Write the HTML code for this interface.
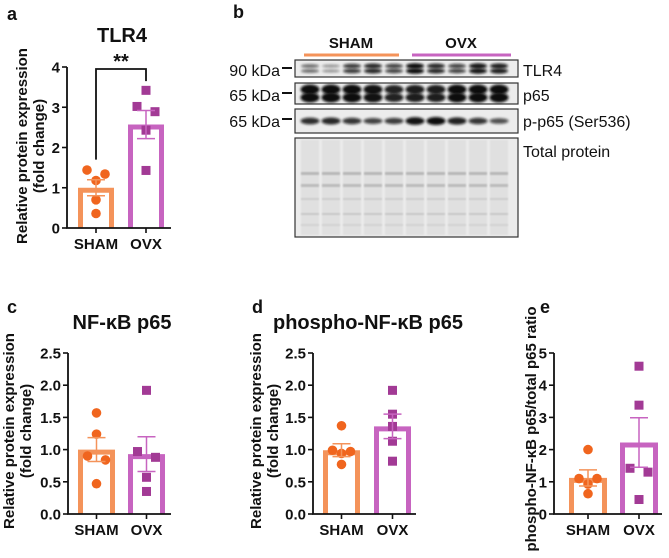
<!DOCTYPE html>
<html><head><meta charset="utf-8">
<style>
html,body{margin:0;padding:0;background:#fff;}
svg{display:block;font-family:"Liberation Sans",Arial,sans-serif;}
.tk{font-size:15px;font-weight:bold;fill:#111;}
.ttl{font-size:20px;font-weight:bold;fill:#111;}
.pl{font-size:18px;font-weight:bold;fill:#111;}
.bl{font-size:16px;fill:#111;}
</style></head>
<body>
<svg id="fig" width="669" height="558" viewBox="0 0 669 558" xmlns="http://www.w3.org/2000/svg">
<defs>
<filter id="blur1" x="-30%" y="-80%" width="160%" height="260%"><feGaussianBlur stdDeviation="1.2"/></filter>
<filter id="blur2" x="-20%" y="-50%" width="140%" height="200%"><feGaussianBlur stdDeviation="0.8"/></filter>
</defs>
<text class="pl" x="7" y="20">a</text>
<text class="pl" x="233" y="18">b</text>
<text class="pl" x="7" y="313">c</text>
<text class="pl" x="252" y="313">d</text>
<text class="pl" x="540" y="313">e</text>
<g id="blot"></g>
<g id="charts"></g>
</svg>
<script>
// ---- data ----
const groups = ["SHAM", "OVX"];
// panel a TLR4
const aSham = [1.44, 1.34, 1.18, 0.70, 0.36];
const aOvx = [3.42, 3.02, 2.89, 2.43, 1.43];
const aMean = [1.0, 2.57];
const aSem = [0.2, 0.35];
const aTicks = [0, 1, 2, 3, 4];
// panel c NF-kB p65
const cSham = [1.57, 1.24, 0.90, 0.84, 0.47];
const cOvx = [1.92, 0.97, 0.88, 0.57, 0.35];
const cMean = [1.0, 0.93];
const cSem = [0.185, 0.27];
const cTicks = ["0.0", "0.5", "1.0", "1.5", "2.0", "2.5"];
// panel d phospho p65
const dSham = [1.37, 0.99, 0.97, 0.94, 0.77];
const dOvx = [1.92, 1.55, 1.36, 1.13, 0.82];
const dMean = [0.99, 1.36];
const dSem = [0.1, 0.19];
const dTicks = ["0.0", "0.5", "1.0", "1.5", "2.0", "2.5"];
// panel e ratio
const eSham = [2.0, 1.1, 1.1, 0.93, 0.63];
const eOvx = [4.59, 3.38, 1.42, 1.3, 0.45];
const eMean = [1.12, 2.22];
const eSem = [0.25, 0.77];
const eTicks = [0, 1, 2, 3, 4, 5];
// blot band intensities per lane (0..1)
const tlr4Int = [0.5, 0.3, 0.75, 0.85, 0.7, 1.0, 0.85, 0.7, 0.95, 0.9];
const p65Int = [1.0, 1.0, 1.0, 0.95, 0.8, 0.85, 0.85, 1.0, 1.0, 1.0];
const pp65Int = [0.75, 0.8, 0.7, 0.6, 0.65, 0.95, 1.0, 0.85, 0.7, 0.5];

const NS = "http://www.w3.org/2000/svg";
const ORANGE_BAR = "#F4935A", ORANGE_PT = "#F0651E";
const PURPLE_BAR = "#C764C0", PURPLE_PT = "#A23A95";
function mk(tag, attrs, parent) {
  const e = document.createElementNS(NS, tag);
  for (const k in attrs) e.setAttribute(k, attrs[k]);
  parent.appendChild(e);
  return e;
}
const charts = document.getElementById("charts");

function jitter(vals, y) {
  // group points closer than 8px vertically; spread left/right/center
  const ys = vals.map(y);
  const dx = vals.map(() => 0);
  const used = vals.map(() => false);
  for (let i = 0; i < vals.length; i++) {
    if (used[i]) continue;
    const cl = [i]; used[i] = true;
    for (let j = i + 1; j < vals.length; j++) {
      if (!used[j] && Math.abs(ys[j] - ys[cl[cl.length - 1]]) < 8) { cl.push(j); used[j] = true; }
    }
    if (cl.length > 1) {
      const pattern = [-9, 9, 0, -9, 9];
      cl.forEach((k, n) => dx[k] = pattern[n]);
    }
  }
  return dx;
}

function panel(cfg) {
  const g = mk("g", {}, charts);
  
  
  const y = v => cfg.y0 - v / cfg.max * (cfg.y0 - cfg.yTop);
  if (cfg.title) {
    const t = mk("text", {class: "ttl", x: cfg.titleX, y: cfg.titleY, "text-anchor": "middle"}, g);
    t.textContent = cfg.title;
    
    
  }
  const yl = mk("text", {class: "tk", "text-anchor": "middle", transform: `translate(${cfg.ylX},${cfg.ylY}) rotate(-90)`, "font-size": "16"}, g);
  
  
  cfg.ylLines.forEach((ln, i) => {
    const ts = mk("tspan", {x: 0, dy: i === 0 ? 0 : 17}, yl);
    ts.textContent = ln;
  });
  const barCols = [ORANGE_BAR, PURPLE_BAR], ptCols = [ORANGE_PT, PURPLE_PT];
  const pts = [cfg.sham, cfg.ovx];
  for (let i = 0; i < 2; i++) {
    const x0 = cfg.barX[i], w = cfg.barW;
    const top = y(cfg.mean[i]);
    const r = mk("path", {d: `M${x0 + 2.5} ${cfg.y0} V${top + 2.5} H${x0 + w - 2.5} V${cfg.y0}`, fill: "#fff", stroke: barCols[i], "stroke-width": 5}, g);
    
    
    const cx = x0 + w / 2;
    const vals = pts[i];
    const dxs = jitter(vals, y);
    vals.forEach((v, j) => {
      const py = y(v);
      let m;
      if (i === 0) m = mk("circle", {cx: cx + dxs[j], cy: py, r: 4.8, fill: ptCols[i]}, g);
      else m = mk("rect", {x: cx + dxs[j] - 4.5, y: py - 4.5, width: 9, height: 9, fill: ptCols[i]}, g);
      
      
    });
    const hi = y(cfg.mean[i] + cfg.sem[i]), lo = y(cfg.mean[i] - cfg.sem[i]);
    const eb = mk("path", {d: `M${cx} ${lo} V${hi} M${cx - 9} ${hi} H${cx + 9} M${cx - 9} ${lo} H${cx + 9}`, stroke: barCols[i], "stroke-width": 1.5, fill: "none"}, g);
    
    
    const xl = mk("text", {class: "tk", x: cx, y: cfg.y0 + 21, "text-anchor": "middle", "font-size": "16"}, g);
    xl.textContent = groups[i];
    
    
    mk("line", {x1: cx, x2: cx, y1: cfg.y0, y2: cfg.y0 + 5, stroke: "#111", "stroke-width": 1.6}, g);
  }
  const ax = mk("path", {d: `M${cfg.ax} ${cfg.yTop} V${cfg.y0} H${cfg.axEnd}`, stroke: "#111", "stroke-width": 1.8, fill: "none"}, g);
  
  
  cfg.ticks.forEach(t => {
    const v = parseFloat(t), ty = y(v);
    mk("line", {x1: cfg.ax - 5, x2: cfg.ax, y1: ty, y2: ty, stroke: "#111", "stroke-width": 1.6}, g);
    const tl = mk("text", {class: "tk", x: cfg.ax - 7, y: ty + 5.5, "text-anchor": "end", "font-size": "15.5"}, g);
    tl.textContent = t;
    
    
  });
  return {g, y};
}

const pa = panel({name: "chart-tlr4", title: "TLR4", titleX: 122, titleY: 42, ylLines: ["Relative protein expression", "(fold change)"], ylX: 27, ylY: 146,
  sham: aSham, ovx: aOvx, mean: aMean, sem: aSem, ticks: aTicks, max: 4, y0: 228, yTop: 67, ax: 67, axEnd: 171, barX: [78, 128], barW: 36});
(function () {
  const br = mk("path", {d: `M96 ${pa.y(1.7)} V${pa.y(3.95)} H146 V${pa.y(3.65)}`, stroke: "#111", "stroke-width": 1.8, fill: "none"}, pa.g);
  
  
  const st = mk("text", {class: "ttl", x: 121, y: 68, "text-anchor": "middle"}, pa.g);
  st.textContent = "**";
  
  
})();
panel({name: "chart-nfkb-p65", title: "NF-\u03BAB p65", titleX: 122, titleY: 329, ylLines: ["Relative protein expression", "(fold change)"], ylX: 14, ylY: 431,
  sham: cSham, ovx: cOvx, mean: cMean, sem: cSem, ticks: cTicks, max: 2.5, y0: 514, yTop: 353, ax: 68, axEnd: 171, barX: [78, 128], barW: 37});
panel({name: "chart-phospho-nfkb-p65", title: "phospho-NF-\u03BAB p65", titleX: 368, titleY: 329, ylLines: ["Relative protein expression", "(fold change)"], ylX: 261, ylY: 431,
  sham: dSham, ovx: dOvx, mean: dMean, sem: dSem, ticks: dTicks, max: 2.5, y0: 514, yTop: 353, ax: 313, axEnd: 416, barX: [323, 374], barW: 37});
panel({name: "chart-p65-ratio", title: "", ylLines: ["phospho-NF-\u03BAB p65/total p65 ratio"], ylX: 536, ylY: 429,
  sham: eSham, ovx: eOvx, mean: eMean, sem: eSem, ticks: eTicks, max: 5, y0: 514, yTop: 353, ax: 554, axEnd: 662, barX: [569, 620], barW: 38});

// ---- blot ----
(function () {
  const b = document.getElementById("blot");
  const L = 295, R = 518, lanes = 10, first = 310, step = 21;
  function label(txt, x, y, anchor, name) {
    const t = mk("text", {class: "bl", x: x, y: y, "text-anchor": anchor}, b);
    t.textContent = txt;
    
    
  }
  const sl = mk("text", {class: "tk", x: 351, y: 48, "text-anchor": "middle", "font-size": "16"}, b); sl.textContent = "SHAM";
   
  const ol = mk("text", {class: "tk", x: 461, y: 48, "text-anchor": "middle", "font-size": "16"}, b); ol.textContent = "OVX";
   
  mk("line", {x1: 304, x2: 399, y1: 55, y2: 55, stroke: ORANGE_BAR, "stroke-width": 3}, b);
  mk("line", {x1: 412, x2: 511, y1: 55, y2: 55, stroke: PURPLE_BAR, "stroke-width": 3}, b);
  const boxes = [[60, 77, "TLR4", tlr4Int, "90 kDa", 70], [83, 104, "p65", p65Int, "65 kDa", 95], [109, 133, "p-p65 (Ser536)", pp65Int, "65 kDa", 121]];
  boxes.forEach(([t, bt, name, ints, kda, ly], bi) => {
    mk("rect", {x: L, y: t, width: R - L, height: bt - t, fill: "#ececec", stroke: "#333", "stroke-width": 1.2}, b);
    const cy = (t + bt) / 2;
    ints.forEach((v, i) => {
      const cx = first + i * step;
      if (bi === 1) {
        [cy - 4, cy + 4].forEach(yy => {
          const band = mk("ellipse", {cx: cx, cy: yy, rx: 9.5, ry: 2.5 + 2.5 * v, fill: "#0a0a0a", opacity: 0.5 + 0.5 * v, filter: "url(#blur1)"}, b);
          
          
        });
      } else if (bi === 0) {
        [cy - 2.5, cy + 2.5].forEach(yy => {
          const band = mk("ellipse", {cx: cx, cy: yy, rx: 9, ry: 0.8 + 2 * v, fill: "#111", opacity: 0.2 + 0.8 * v, filter: "url(#blur1)"}, b);
          
          
        });
      } else {
        const band = mk("ellipse", {cx: cx, cy: cy, rx: 9.5, ry: 1.5 + 2.5 * v, fill: "#111", opacity: 0.4 + 0.6 * v, filter: "url(#blur1)"}, b);
        
        
      }
    });
    label(kda, 280, ly + 6, "end", "mw-marker");
    mk("line", {x1: 282, x2: 292, y1: ly - 2, y2: ly - 2, stroke: "#111", "stroke-width": 2}, b);
    label(name, 523, ly + 6, "start", "blot-label-" + name.split(" ")[0].toLowerCase());
  });
  mk("rect", {x: L, y: 138, width: R - L, height: 99, fill: "#ebebeb", stroke: "#333", "stroke-width": 1.2}, b);
  for (let i = 0; i < lanes; i++) {
    const cx = first + i * step;
    mk("rect", {x: cx - 9, y: 140, width: 18, height: 95, fill: "#e0e0e0", filter: "url(#blur2)"}, b);
    [[172, 3, "#b8b8b8"], [184, 3, "#bcbcbc"], [198, 2, "#cdcdcd"], [213, 2, "#c8c8c8"], [224, 2, "#d2d2d2"]].forEach(([yy, h, c]) => {
      mk("rect", {x: cx - 9, y: yy, width: 18, height: h, fill: c, filter: "url(#blur2)"}, b);
    });
  }
  label("Total protein", 523, 157, "start", "blot-label-total-protein");
})();
</script>
</body></html>
